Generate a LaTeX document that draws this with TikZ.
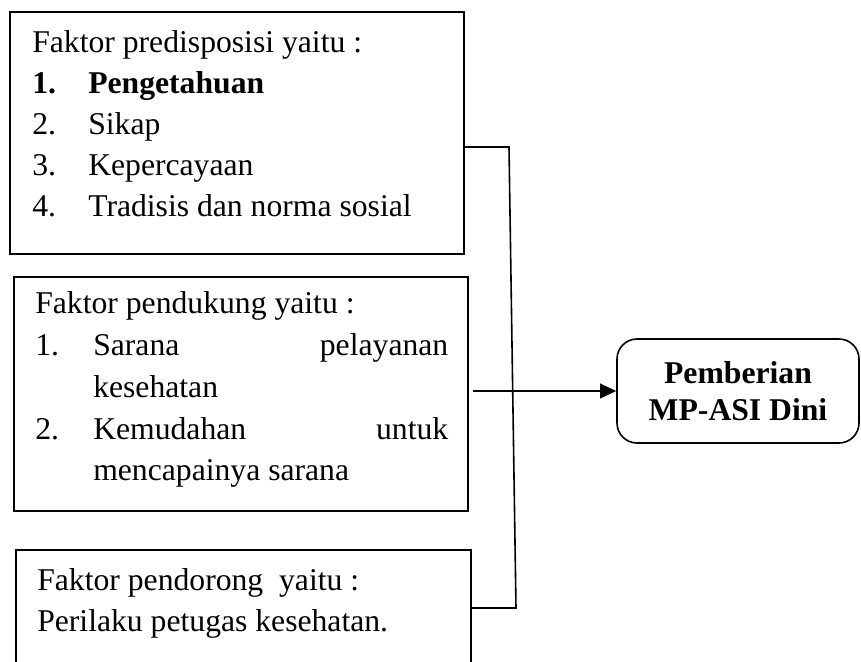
\documentclass[tikz,border=0pt]{standalone}
\usepackage{fontspec}
\setmainfont{Liberation Serif}
\usetikzlibrary{arrows.meta}

\begin{document}
\begin{tikzpicture}[x=0.75pt, y=-0.75pt,
    kotak/.style={draw=garisColour, line width=1.2pt, inner sep=0pt, outer sep=0pt, anchor=north west},
    teks/.style={anchor=base west, inner sep=0pt, font=\fontsize{23.75pt}{30pt}\selectfont},
    garis/.style={draw=garisColour, line width=1.2pt},
    panah/.style={garis, -{Triangle[length=12pt, width=11pt]}}]
    % Define text column, line spacing and justified width
    \def\kolom{56}
    \def\baris{41}
    \def\lebarIsi{266.25pt}

    \definecolor{garisColour}{HTML}{000000}

    % Fix picture size
    \useasboundingbox (0,0) rectangle (861,661);
    \clip (0,0) rectangle (861,661);

    % Draw the three factor boxes
    \node[kotak, minimum width=0.75pt*454, minimum height=0.75pt*242] (predisposisi) at (10,12) {};
    \node[kotak, minimum width=0.75pt*454, minimum height=0.75pt*234] (pendukung) at (14,277) {};
    \node[kotak, minimum width=0.75pt*455, minimum height=0.75pt*180] (pendorong) at (16,550) {};

    % Draw the outcome box
    \node[draw=garisColour, line width=1.2pt, rounded corners=15pt, minimum width=0.75pt*242,
        minimum height=0.75pt*104, align=center, inner sep=0pt,
        font=\fontsize{23.75pt}{28pt}\selectfont\bfseries] (pemberian) at (738,391)
        {Pemberian\\MP-ASI Dini};

    % Text of the first box
    \node[teks] (judul1) at (32,52) {Faktor predisposisi yaitu :};
    \node[teks, font=\fontsize{23.75pt}{30pt}\selectfont\bfseries] (nomor1) at (32,93) {1.};
    \node[teks, font=\fontsize{23.75pt}{30pt}\selectfont\bfseries] (isi1) at (32+\kolom,93) {Pengetahuan};
    \foreach \no/\isi in {2/Sikap, 3/Kepercayaan, 4/Tradisis dan norma sosial}
    {
        \node[teks] (nomor\no) at (32,52+\baris*\no) {\no.};
        \node[teks] (isi\no) at (32+\kolom,52+\baris*\no) {\isi};
    }

    % Text of the second box
    \node[teks] (judul2) at (35,313) {Faktor pendukung yaitu :};
    \node[teks] (nomorA) at (35,355) {1.};
    \node[teks] (isiA) at (93,355) {\makebox[\lebarIsi][s]{Sarana pelayanan}};
    \node[teks] (isiA2) at (93,397) {kesehatan};
    \node[teks] (nomorB) at (35,439) {2.};
    \node[teks] (isiB) at (93,439) {\makebox[\lebarIsi][s]{Kemudahan untuk}};
    \node[teks] (isiB2) at (93,480) {mencapainya sarana};

    % Text of the third box
    \node[teks] (judul3) at (37,590) {Faktor pendorong\ \ yaitu :};
    \node[teks] (isiC) at (37,631) {Perilaku petugas kesehatan.};

    % Draw the connectors
    \coordinate (atas) at (509,147);
    \coordinate (bawah) at (516,608);
    \draw[garis] (predisposisi.east |- atas) -- (atas) -- (bawah) -- (pendorong.east |- bawah);
    \draw[panah] ([xshift=4pt]pendukung.east |- pemberian.west) -- (pemberian.west);

\end{tikzpicture}
\end{document}
